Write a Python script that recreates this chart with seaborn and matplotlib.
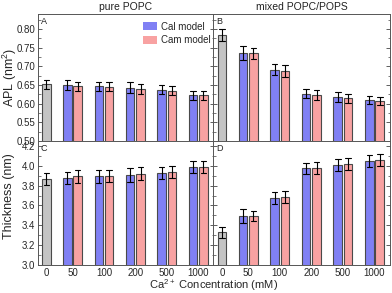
import numpy as np
import pandas as pd
import matplotlib
matplotlib.use("Agg")
import matplotlib.pyplot as plt
import seaborn as sns
from matplotlib.ticker import MultipleLocator, FormatStrFormatter
from matplotlib.patches import Patch

# ---------------- data ----------------
concs = ["0", "50", "100", "200", "500", "1000"]
pair_concs = ["50", "100", "200", "500", "1000"]

# A: APL pure POPC
a_ref, a_ref_err = 0.652, 0.012
a_cal = [0.650, 0.646, 0.643, 0.637, 0.623]
a_cal_err = [0.013, 0.013, 0.014, 0.012, 0.012]
a_cam = [0.646, 0.645, 0.639, 0.635, 0.622]
a_cam_err = [0.013, 0.012, 0.014, 0.012, 0.012]

# B: APL mixed POPC/POPS
b_ref, b_ref_err = 0.783, 0.016
b_cal = [0.736, 0.691, 0.627, 0.618, 0.610]
b_cal_err = [0.018, 0.015, 0.012, 0.013, 0.011]
b_cam = [0.735, 0.687, 0.623, 0.614, 0.607]
b_cam_err = [0.015, 0.016, 0.013, 0.011, 0.011]

# C: Thickness pure POPC
c_ref, c_ref_err = 3.868, 0.062
c_cal = [3.875, 3.893, 3.905, 3.930, 3.990]
c_cal_err = [0.062, 0.065, 0.070, 0.060, 0.060]
c_cam = [3.895, 3.895, 3.922, 3.940, 3.990]
c_cam_err = [0.065, 0.060, 0.070, 0.060, 0.060]

# D: Thickness mixed POPC/POPS
d_ref, d_ref_err = 3.328, 0.060
d_cal = [3.493, 3.672, 3.973, 4.010, 4.044]
d_cal_err = [0.070, 0.060, 0.060, 0.060, 0.060]
d_cam = [3.493, 3.689, 3.980, 4.020, 4.054]
d_cam_err = [0.050, 0.060, 0.060, 0.060, 0.060]

models = ["Cal model", "Cam model"]
titles = ["pure POPC", "mixed POPC/POPS"]
panel_letters = ["A", "B", "C", "D"]

# ---------------- style ----------------
sns.set_theme(style="ticks")
plt.rcParams["font.family"] = ["Liberation Sans", "DejaVu Sans"]
plt.rcParams["mathtext.default"] = "regular"

C_BLUE = "#8080f4"
C_PINK = "#f8a2a2"
C_GREY = "#c4c4c4"
EDGE = "#4a4a4a"
palette = {"Cal model": C_BLUE, "Cam model": C_PINK}

W = 0.66
GAP = 0.18


def pair_frame(cal, cal_err, cam, cam_err):
    rows = []
    for name, vals, errs in (("Cal model", cal, cal_err), ("Cam model", cam, cam_err)):
        for c, v, e in zip(pair_concs, vals, errs):
            rows.append((c, name, v - e))
            rows.append((c, name, v + e))
    return pd.DataFrame(rows, columns=["conc", "model", "value"])


def ref_frame(v, e):
    return pd.DataFrame({"conc": ["0", "0"], "model": ["Reference", "Reference"],
                         "value": [v - e, v + e]})


fig = plt.figure(figsize=(3.92, 2.93), dpi=100)
L0, W0 = 38 / 392, 175.5 / 392
L1, W1 = 213.5 / 392, 176.5 / 392
B0, H0 = (293 - 141) / 293, 127 / 293
B1, H1 = 28 / 293, 124 / 293
axes = [fig.add_axes([L0, B0, W0, H0]), fig.add_axes([L1, B0, W1, H0]),
        fig.add_axes([L0, B1, W0, H1]), fig.add_axes([L1, B1, W1, H1])]

datasets = [
    (a_ref, a_ref_err, a_cal, a_cal_err, a_cam, a_cam_err),
    (b_ref, b_ref_err, b_cal, b_cal_err, b_cam, b_cam_err),
    (c_ref, c_ref_err, c_cal, c_cal_err, c_cam, c_cam_err),
    (d_ref, d_ref_err, d_cal, d_cal_err, d_cam, d_cam_err),
]

err_kws = {"color": "black", "linewidth": 0.8}

for i, (ax, ds) in enumerate(zip(axes, datasets)):
    ref, ref_e, cal, cal_e, cam, cam_e = ds
    sns.barplot(data=pair_frame(cal, cal_e, cam, cam_e), x="conc", y="value",
                hue="model", hue_order=models, order=concs, palette=palette,
                estimator="mean", errorbar=("pi", 100), capsize=0.35,
                err_kws=err_kws, width=W, gap=GAP, dodge=True, edgecolor=EDGE,
                linewidth=0.8, saturation=1, legend=False, ax=ax)
    # reference bar occupies the right-hand slot of its category, as in the source
    sns.barplot(data=ref_frame(ref, ref_e), x="conc", y="value",
                hue="model", hue_order=["_pad", "Reference"], order=concs,
                palette={"_pad": "white", "Reference": C_GREY},
                estimator="mean", errorbar=("pi", 100), capsize=0.35,
                err_kws=err_kws, width=W, gap=GAP, dodge=True, edgecolor=EDGE,
                linewidth=0.8, saturation=1, legend=False, ax=ax)

    ax.set_xlim(-0.10, 5.49)
    ax.set_xticks([W / 4, 1, 2, 3, 4, 5])
    ax.set_xticklabels(concs)
    ax.set_xlabel("")
    ax.set_ylabel("")
    if i < 2:
        ax.set_ylim(0.50, 0.84)
        ax.yaxis.set_major_locator(MultipleLocator(0.05))
        ax.yaxis.set_minor_locator(MultipleLocator(0.025))
        ax.tick_params(axis="x", labelbottom=False)
        ax.set_title(titles[i], fontsize=7.5, pad=3, color="#222222")
    else:
        ax.set_ylim(3.0, 4.25)
        ax.yaxis.set_major_locator(MultipleLocator(0.2))
        ax.yaxis.set_minor_locator(MultipleLocator(0.1))
    if i % 2 == 1:
        ax.tick_params(axis="y", labelleft=False)
    else:
        ax.yaxis.set_major_formatter(FormatStrFormatter("%.2f" if i == 0 else "%.1f"))
    ax.tick_params(axis="y", which="both", direction="in", left=True, right=True,
                   labelsize=7, color="#444444", pad=2)
    ax.tick_params(axis="y", which="major", length=3, width=0.6)
    ax.tick_params(axis="y", which="minor", length=1.8, width=0.5)
    ax.tick_params(axis="x", which="both", length=0, labelsize=7, pad=2)
    for s in ax.spines.values():
        s.set_visible(True)
        s.set_color("#555555")
        s.set_linewidth(0.7)
    ax.text(0.015, 0.975, panel_letters[i], transform=ax.transAxes,
            fontsize=6.5, ha="left", va="top", color="#222222")

fig.text(9.5 / 392, 1 - 77 / 293, "APL (nm$^{2}$)", rotation=90,
         ha="center", va="center", fontsize=9)
fig.text(9.5 / 392, 1 - 196 / 293, "Thickness (nm)", rotation=90,
         ha="center", va="center", fontsize=9)

handles = [Patch(facecolor=C_BLUE, edgecolor="none", label="Cal model"),
           Patch(facecolor=C_PINK, edgecolor="none", label="Cam model")]
axes[0].legend(handles=handles, loc="upper right", bbox_to_anchor=(1.03, 1.0),
               frameon=False, fontsize=7, handlelength=1.5, handleheight=0.9,
               handletextpad=0.4, labelspacing=0.35, borderaxespad=0.4)

fig.text((L0 + L1 + W1) / 2, 8 / 293, "Ca$^{2+}$ Concentration (mM)",
         ha="center", va="center", fontsize=8)

fig.savefig("out.png", dpi=100)
